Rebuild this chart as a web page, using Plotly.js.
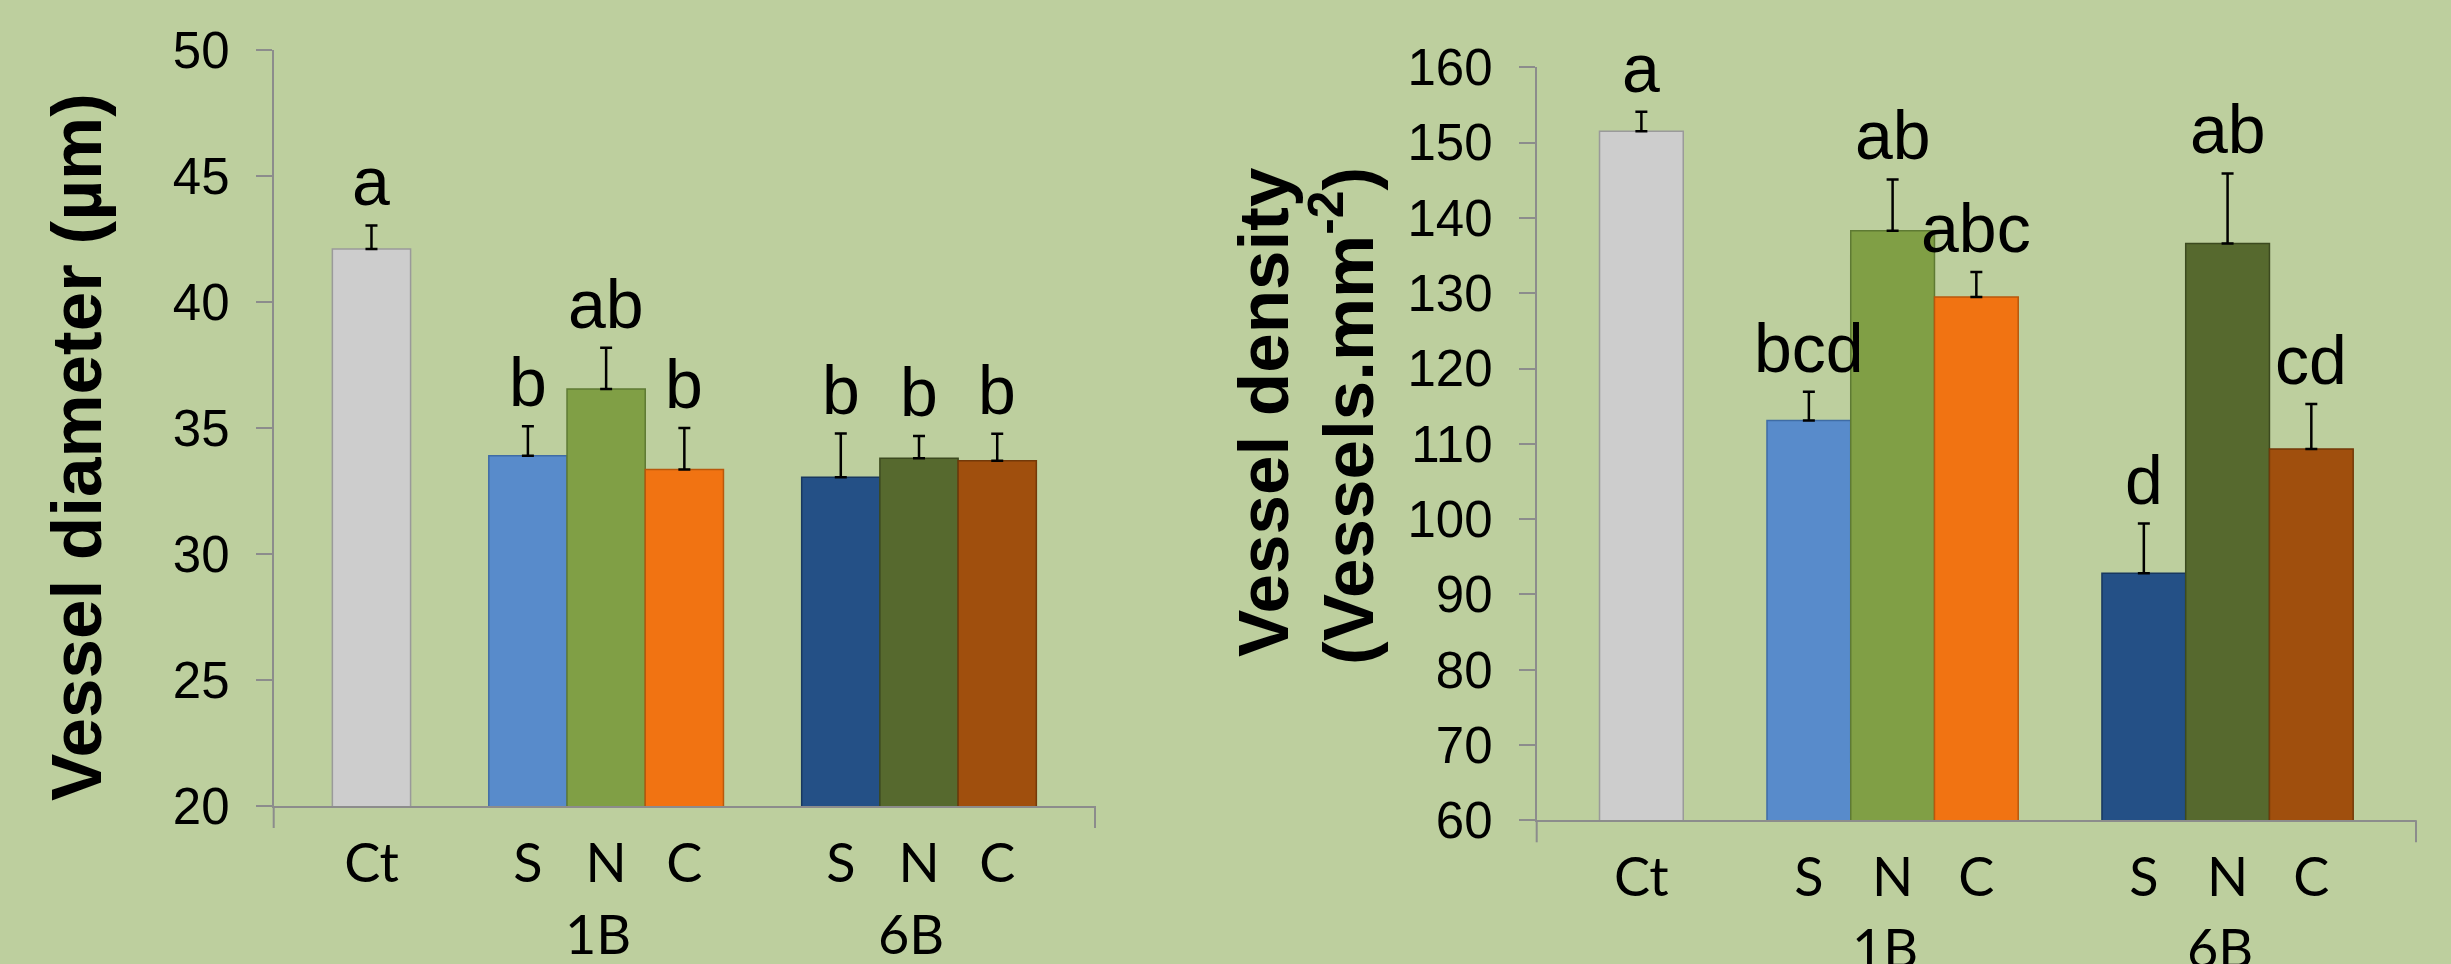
<!DOCTYPE html>
<html><head><meta charset="utf-8">
<script src="https://cdn.plot.ly/plotly-3.0.1.min.js"></script>
<style>html,body{margin:0;padding:0;background:#BDCF9E;overflow:hidden}#chart{width:2451px;height:964px}</style>
</head><body><div id="chart"></div>
<script>
// ---- data ----
const categories = ["Ct","gap1","S1","N1","C1","gap6","S6","N6","C6"];
const barCategories = ["Ct","S1","N1","C1","S6","N6","C6"];
const tickLabels = ["Ct","S","N","C","S","N","C"];
const groupLabels = ["1B","6B"];
const groupCenters = ["N1","N6"];
const diameter = [42.1, 33.9, 36.55, 33.35, 33.05, 33.8, 33.7];
const diameterErr = [0.94, 1.17, 1.63, 1.65, 1.73, 0.88, 1.07];
const diameterLetters = ["a","b","ab","b","b","b","b"];
const density = [151.5, 113.1, 138.3, 129.5, 92.8, 136.6, 109.3];
const densityErr = [2.6, 3.8, 6.8, 3.3, 6.6, 9.3, 6.0];
const densityLetters = ["a","bcd","ab","abc","d","ab","cd"];

// ---- styles ----
const barColors = ["#CDCDCD","#588BCB","#809F45","#F17312","#245086","#56692E","#A04F0D"];
const edgeColors = ["#9A9A9A","#3F6CA5","#5E7A33","#B9580C","#18385F","#3C4A1F","#733909"];
const bg = "#BDCF9E";
const axisGray = "#8C8C8C";
const numFont = "Liberation Sans, Arial, sans-serif";
const catFont = "Lato, Calibri, sans-serif";

function barTrace(vals, errs, xa, ya) {
  return {
    type: "bar", x: barCategories, y: vals, xaxis: xa, yaxis: ya, width: 1,
    marker: {color: barColors, line: {color: edgeColors, width: 1.5}},
    error_y: {type: "data", symmetric: false, array: errs, arrayminus: errs.map(() => 0),
              color: "#000", thickness: 2.5, width: 6},
    hoverinfo: "skip", showlegend: false
  };
}

function xAxis(domain, ya) {
  return {
    domain: domain, anchor: ya, type: "category", categoryorder: "array", categoryarray: categories,
    range: [-1.25, 9.25], tickvals: barCategories, ticktext: tickLabels,
    showline: true, linecolor: axisGray, linewidth: 2, ticks: "", showgrid: false, zeroline: false,
    tickfont: {family: catFont, size: 54, color: "#000"}, ticklabelstandoff: 9, fixedrange: true
  };
}
function yAxis(domain, xa, range, dtick) {
  return {
    domain: domain, anchor: xa, range: range, dtick: dtick, tick0: range[0],
    showline: true, linecolor: axisGray, linewidth: 2, ticks: "outside", ticklen: 16, tickwidth: 2,
    tickcolor: axisGray, showgrid: false, zeroline: false,
    tickfont: {family: numFont, size: 51, color: "#000"}, ticklabelstandoff: 16, fixedrange: true
  };
}

const annotations = [];
function letterAnn(vals, errs, letters, xa, ya) {
  letters.forEach((t, i) => annotations.push({
    x: barCategories[i], y: vals[i] + errs[i], xref: xa, yref: ya, text: t, showarrow: false,
    yanchor: "bottom", yshift: 4, font: {family: numFont, size: 68, color: "#000"}
  }));
}
letterAnn(diameter, diameterErr, diameterLetters, "x", "y");
letterAnn(density, densityErr, densityLetters, "x2", "y2");
[["x","y domain"],["x2","y2 domain"]].forEach(([xa, ya]) => {
  groupLabels.forEach((g, i) => annotations.push({
    x: groupCenters[i], y: 0, xref: xa, yref: ya, text: g, showarrow: false,
    yanchor: "top", yshift: -93, xshift: -8, font: {family: catFont, size: 54, color: "#000"}
  }));
});
annotations.push({x: 76/2451, y: 1 - 447/964, xref: "paper", yref: "paper", text: "Vessel diameter (µm)",
  textangle: -90, showarrow: false, xanchor: "center", yanchor: "middle",
  font: {family: numFont, size: 71, color: "#000", weight: "bold"}});
annotations.push({x: 1263/2451, y: 1 - 412/964, xref: "paper", yref: "paper", text: "Vessel density",
  textangle: -90, showarrow: false, xanchor: "center", yanchor: "middle",
  font: {family: numFont, size: 71, color: "#000", weight: "bold"}});
annotations.push({x: 1343/2451, y: 1 - 416/964, xref: "paper", yref: "paper", text: "(Vessels.mm<sup>-2</sup>)",
  textangle: -90, showarrow: false, xanchor: "center", yanchor: "middle",
  font: {family: numFont, size: 71, color: "#000", weight: "bold"}});

function endTicks(xa, ya) {
  return [0, 1].map(xv => ({type: "line", xref: xa + " domain", yref: ya + " domain",
    x0: xv, x1: xv, ysizemode: "pixel", yanchor: 0, y0: 0, y1: -22,
    line: {color: axisGray, width: 2}}));
}

const layout = {
  width: 2451, height: 964, margin: {l: 0, r: 0, t: 0, b: 0},
  paper_bgcolor: bg, plot_bgcolor: bg, bargap: 0,
  xaxis: xAxis([273.7/2451, 1095/2451], "y"),
  yaxis: yAxis([1 - 806/964, 1 - 50/964], "x", [20, 50], 5),
  xaxis2: xAxis([1536.7/2451, 2416/2451], "y2"),
  yaxis2: yAxis([1 - 820.3/964, 1 - 67.3/964], "x2", [60, 160], 10),
  annotations: annotations,
  shapes: endTicks("x", "y").concat(endTicks("x2", "y2"))
};

Plotly.newPlot("chart", [barTrace(diameter, diameterErr, "x", "y"), barTrace(density, densityErr, "x2", "y2")],
  layout, {staticPlot: true, displayModeBar: false});
</script></body></html>
